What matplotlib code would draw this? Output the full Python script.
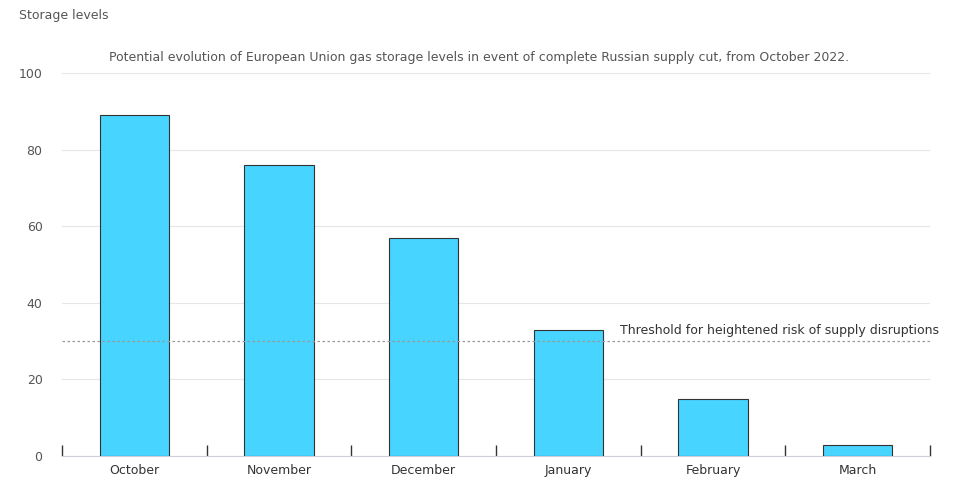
import matplotlib
matplotlib.use("Agg")
import matplotlib.pyplot as plt
import numpy as np

months = ["October", "November", "December", "January", "February", "March"]
levels = [89, 76, 57, 33, 15, 3]
threshold = 30
yticks = [0, 20, 40, 60, 80, 100]

fig = plt.figure(figsize=(9.59, 4.95), dpi=100)
ax = fig.add_axes([62/959, 39/495, 868/959, 383/495])
x = np.arange(len(months))
ax.bar(x, levels, width=0.48, color="#47d4ff", edgecolor="#333333", linewidth=0.8, zorder=3)
ax.set_xlim(-0.5, len(months) - 0.5)
ax.set_ylim(0, 100)
ax.set_yticks(yticks)
ax.set_xticks(x)
ax.set_xticklabels(months)
ax.set_xticks(np.arange(-0.5, len(months)), minor=True)
ax.tick_params(axis="x", which="major", length=0, pad=6, labelsize=9, labelcolor="#333333")
ax.tick_params(axis="x", which="minor", length=8, direction="in", color="#333333", width=1)
ax.tick_params(axis="y", length=0, pad=14, labelsize=9, labelcolor="#555555")
ax.grid(axis="y", color="#e6e6e6", linewidth=0.8, zorder=0)
for s in ["top", "right", "left"]:
    ax.spines[s].set_visible(False)
ax.spines["bottom"].set_color("#ccccdd")
ax.axhline(threshold, color="#999999", linestyle=(0, (2, 2)), linewidth=0.9, zorder=4)
ax.text(1.01, threshold + 1.2, "Threshold for heightened risk of supply disruptions",
        transform=ax.get_yaxis_transform(), ha="right", va="bottom", fontsize=9, color="#333333")
fig.text(19/959, 1 - 16/495, "Storage levels", ha="left", va="center", fontsize=9, color="#555555")
fig.text(479/959, 1 - 57/495,
         "Potential evolution of European Union gas storage levels in event of complete Russian supply cut, from October 2022.",
         ha="center", va="center", fontsize=9, color="#555555")
fig.savefig("out.png", dpi=100)
